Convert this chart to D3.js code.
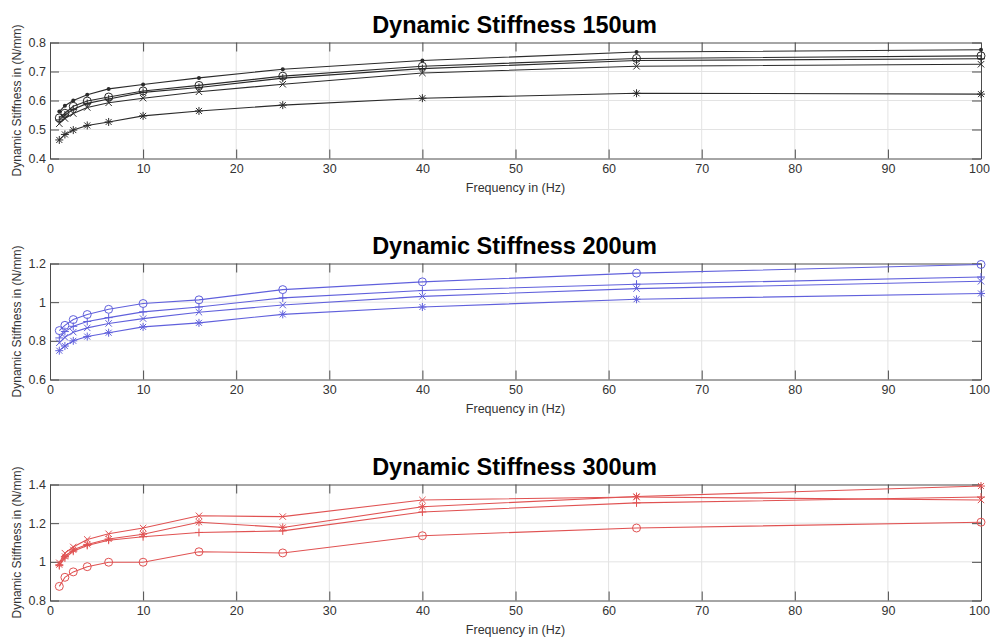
<!DOCTYPE html>
<html>
<head>
<meta charset="utf-8">
<script src="https://cdn.jsdelivr.net/npm/d3@7"></script>
<style>
  html, body { margin: 0; padding: 0; background: #fff; }
  svg { display: block; font-family: "Liberation Sans", Arial, Helvetica, sans-serif; }
</style>
</head>
<body>
<svg id="chart" width="990" height="637"></svg>
<script>
// Test frequencies (Hz)
const freq = [1, 1.6, 2.5, 4, 6.3, 10, 16, 25, 40, 63, 100];
const xTicks = [0, 10, 20, 30, 40, 50, 60, 70, 80, 90, 100];

// 150um — five runs
const s150Dot    = [0.562, 0.582, 0.600, 0.620, 0.640, 0.655, 0.678, 0.708, 0.738, 0.767, 0.775];
const s150Circle = [0.540, 0.556, 0.580, 0.598, 0.612, 0.633, 0.652, 0.684, 0.718, 0.745, 0.754];
const s150Plus   = [0.533, 0.550, 0.570, 0.590, 0.605, 0.628, 0.645, 0.677, 0.710, 0.738, 0.744];
const s150Cross  = [0.520, 0.538, 0.555, 0.576, 0.592, 0.608, 0.630, 0.656, 0.695, 0.718, 0.725];
const s150Star   = [0.464, 0.483, 0.498, 0.514, 0.526, 0.547, 0.564, 0.584, 0.608, 0.625, 0.622];
const y150Ticks  = [0.4, 0.5, 0.6, 0.7, 0.8];

// 200um — four runs
const s200Circle = [0.853, 0.880, 0.910, 0.936, 0.963, 0.993, 1.012, 1.065, 1.105, 1.150, 1.195];
const s200Plus   = [0.815, 0.848, 0.875, 0.900, 0.920, 0.950, 0.975, 1.022, 1.060, 1.093, 1.130];
const s200Cross  = [0.790, 0.818, 0.845, 0.867, 0.890, 0.915, 0.948, 0.985, 1.030, 1.070, 1.108];
const s200Star   = [0.749, 0.773, 0.800, 0.822, 0.842, 0.872, 0.893, 0.937, 0.975, 1.015, 1.045];
const y200Ticks  = [0.6, 0.8, 1, 1.2];

// 300um — four runs
const s300Circle = [0.873, 0.920, 0.948, 0.975, 0.998, 0.998, 1.052, 1.046, 1.135, 1.175, 1.205];
const s300Plus   = [0.980, 1.020, 1.055, 1.085, 1.112, 1.130, 1.152, 1.160, 1.258, 1.305, 1.335];
const s300Cross  = [0.995, 1.045, 1.077, 1.116, 1.145, 1.175, 1.238, 1.234, 1.320, 1.335, 1.320];
const s300Star   = [0.985, 1.028, 1.062, 1.090, 1.118, 1.143, 1.205, 1.178, 1.285, 1.338, 1.392];
const y300Ticks  = [0.8, 1, 1.2, 1.4];

const panels = [
  { title: "Dynamic Stiffness 150um", color: "#2b2b2b", yDomain: [0.4, 0.8], yTicks: y150Ticks,
    top: 42.5, series: [
      { marker: "dot", values: s150Dot },
      { marker: "circle", values: s150Circle },
      { marker: "plus", values: s150Plus },
      { marker: "cross", values: s150Cross },
      { marker: "star", values: s150Star } ] },
  { title: "Dynamic Stiffness 200um", color: "#6060dc", yDomain: [0.6, 1.2], yTicks: y200Ticks,
    top: 263.5, series: [
      { marker: "circle", values: s200Circle },
      { marker: "plus", values: s200Plus },
      { marker: "cross", values: s200Cross },
      { marker: "star", values: s200Star } ] },
  { title: "Dynamic Stiffness 300um", color: "#e05252", yDomain: [0.8, 1.4], yTicks: y300Ticks,
    top: 484.5, series: [
      { marker: "circle", values: s300Circle },
      { marker: "plus", values: s300Plus },
      { marker: "cross", values: s300Cross },
      { marker: "star", values: s300Star } ] }
];

const svg = d3.select("#chart");
const left = 50, right = 981, plotH = 116;
const tickLen = 9;
const axisColor = "#4d4d4d";
const textColor = "#333";

const fmt = v => d3.format("~g")(v);

function drawMarker(g, type, x, y, color) {
  const r = 4;
  if (type === "dot") {
    g.append("circle").attr("cx", x).attr("cy", y).attr("r", 2).attr("fill", color);
  } else if (type === "circle") {
    g.append("circle").attr("cx", x).attr("cy", y).attr("r", r)
      .attr("fill", "none").attr("stroke", color).attr("stroke-width", 1);
  } else if (type === "plus") {
    g.append("path").attr("d", `M${x - r},${y}H${x + r}M${x},${y - r}V${y + r}`)
      .attr("stroke", color).attr("stroke-width", 1).attr("fill", "none");
  } else if (type === "cross") {
    const d = r * 0.8;
    g.append("path").attr("d", `M${x - d},${y - d}L${x + d},${y + d}M${x - d},${y + d}L${x + d},${y - d}`)
      .attr("stroke", color).attr("stroke-width", 1).attr("fill", "none");
  } else if (type === "star") {
    const d = r * 0.75;
    g.append("path").attr("d",
      `M${x - r},${y}H${x + r}M${x},${y - r}V${y + r}M${x - d},${y - d}L${x + d},${y + d}M${x - d},${y + d}L${x + d},${y - d}`)
      .attr("stroke", color).attr("stroke-width", 1).attr("fill", "none");
  }
}

panels.forEach(p => {
  const top = p.top, bottom = top + plotH;
  const x = d3.scaleLinear().domain([0, 100]).range([left, right]);
  const y = d3.scaleLinear().domain(p.yDomain).range([bottom, top]);
  const g = svg.append("g");

  // grid
  g.append("g").selectAll("line").data(xTicks.slice(1, -1)).join("line")
    .attr("x1", d => x(d)).attr("x2", d => x(d)).attr("y1", top).attr("y2", bottom)
    .attr("stroke", "#e3e3e3").attr("stroke-width", 1);
  g.append("g").selectAll("line").data(p.yTicks.slice(1, -1)).join("line")
    .attr("x1", left).attr("x2", right).attr("y1", d => y(d)).attr("y2", d => y(d))
    .attr("stroke", "#e3e3e3").attr("stroke-width", 1);

  // axes with inward ticks on all four sides
  const axB = d3.axisBottom(x).tickValues(xTicks).tickSizeInner(-tickLen).tickSizeOuter(0).tickFormat(fmt).tickPadding(6);
  const axT = d3.axisTop(x).tickValues(xTicks).tickSizeInner(-tickLen).tickSizeOuter(0).tickFormat("");
  const axL = d3.axisLeft(y).tickValues(p.yTicks).tickSizeInner(-tickLen).tickSizeOuter(0).tickFormat(fmt).tickPadding(4);
  const axR = d3.axisRight(y).tickValues(p.yTicks).tickSizeInner(-tickLen).tickSizeOuter(0).tickFormat("");

  [[axB, `translate(0,${bottom})`], [axT, `translate(0,${top})`],
   [axL, `translate(${left},0)`], [axR, `translate(${right},0)`]].forEach(([ax, tr]) => {
    const a = g.append("g").attr("transform", tr).call(ax);
    a.select(".domain").attr("stroke", axisColor).attr("stroke-width", 1);
    a.selectAll(".tick line").attr("stroke", axisColor);
    a.selectAll(".tick text").attr("fill", textColor).attr("font-size", 12.5)
      .attr("font-family", "'Liberation Sans', Arial, sans-serif");
  });
  // keep the last x label inside the page edge
  g.selectAll(".tick text").filter(d => d === 100).attr("dx", -2);

  // series lines and markers
  const line = d3.line().x((d, i) => x(freq[i])).y(d => y(d));
  p.series.forEach(s => {
    g.append("path").datum(s.values).attr("d", line)
      .attr("fill", "none").attr("stroke", p.color).attr("stroke-width", 1.1);
    const mg = g.append("g");
    s.values.forEach((v, i) => drawMarker(mg, s.marker, x(freq[i]), y(v), p.color));
  });

  // titles and labels
  svg.append("text").attr("x", (left + right) / 2 - 1).attr("y", top - 10)
    .attr("text-anchor", "middle").attr("font-size", 23.5).attr("font-weight", "bold")
    .attr("fill", "#000").text(p.title);
  svg.append("text").attr("x", (left + right) / 2).attr("y", bottom + 33)
    .attr("text-anchor", "middle").attr("font-size", 12.5).attr("fill", textColor)
    .text("Frequency in (Hz)");
  svg.append("text")
    .attr("transform", `translate(21,${(top + bottom) / 2}) rotate(-90)`)
    .attr("text-anchor", "middle").attr("font-size", 12).attr("fill", textColor)
    .text("Dynamic Stiffness in (N/mm)");
});
</script>
</body>
</html>
